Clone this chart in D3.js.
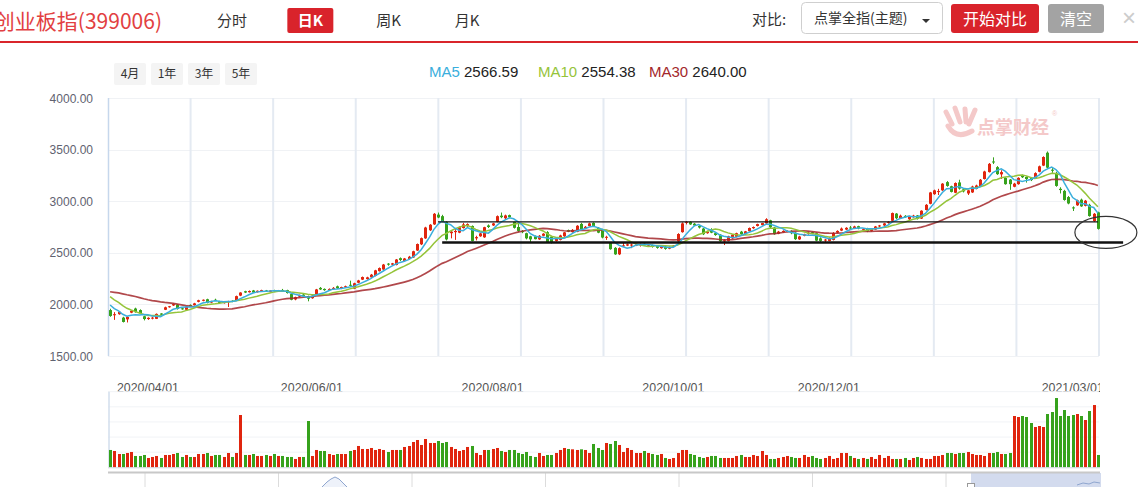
<!DOCTYPE html>
<html><head><meta charset="utf-8">
<script src="https://cdn.jsdelivr.net/npm/d3@7"></script>
<style>
body{margin:0;background:#fff;overflow:hidden}
svg{display:block;font-family:"Liberation Sans",Arial,"Noto Sans CJK SC",sans-serif}
.cjk{font-family:"Noto Sans CJK SC","Liberation Sans",sans-serif}
</style>
</head><body>
<svg id="c" width="1138" height="487"></svg>
<script>
// ---------------- data ----------------
const title = "创业板指(399006)";
const periodTabs = ["分时","日K","周K","月K"];
const rangeBtns = ["4月","1年","3年","5年"];
const maNames = ["MA5","MA10","MA30"];
const maLegendValues = ["2566.59","2554.38","2640.00"];
const yTicks = [1500,2000,2500,3000,3500,4000];
const dateTickIdx = [9,48,91,134,171,229];
const dateTickLabels = ["2020/04/01","2020/06/01","2020/08/01","2020/10/01","2020/12/01","2021/03/01"];

const prevClose = [2060,2090,2120,2150,2170,2200,2230,2190,2150,2120,2080,2100,2130,2110,2160,2180,2170,2190,2150,2180,
2200,2180,2150,2130,2110,2080,2040,1995,1970];

const open = [1945,1895,1905,1872,1855,1920,1960,1945,1885,1858,
1862,1860,1912,1948,1975,1990,1998,1962,1948,1995,
1992,2025,2035,2050,2018,2045,2030,2012,2022,2035,
2040,2085,2128,2118,2135,2118,2125,2135,2122,2138,
2125,2140,2138,2100,2048,2075,2095,2078,2060,2100,
2160,2150,2140,2150,2175,2152,2165,2190,2152,2210,
2240,2245,2262,2275,2322,2338,2395,2385,2382,2448,
2420,2440,2455,2522,2582,2640,2718,2775,2870,2855,
2800,2690,2700,2695,2740,2760,2760,2640,2660,2650,
2765,2765,2800,2860,2835,2865,2800,2750,2712,2690,
2660,2660,2630,2665,2700,2655,2615,2625,2660,2720,
2700,2705,2780,2735,2760,2790,2742,2725,2645,2598,
2548,2485,2565,2570,2575,2570,2572,2588,2575,2575,
2565,2545,2560,2540,2560,2610,2700,2790,2800,2782,
2760,2735,2690,2725,2690,2675,2610,2615,2640,2655,
2705,2680,2710,2738,2760,2768,2785,2815,2745,2685,
2700,2705,2712,2695,2630,2665,2690,2700,2690,2640,
2620,2615,2625,2695,2715,2725,2745,2740,2758,2725,
2738,2712,2725,2758,2765,2790,2810,2880,2835,2858,
2825,2845,2862,2832,2915,2975,3068,3090,3105,3185,
3145,3082,3182,3115,3075,3085,3120,3145,3215,3282,
3385,3330,3260,3225,3210,3140,3165,3250,3235,3225,
3225,3285,3345,3470,3305,3270,3120,3100,3040,2940,
2960,3015,2955,2965,2808,2892];

const high = [1958,1925,1935,1880,1885,1945,1968,1952,1890,1875,
1878,1912,1915,1978,1985,2008,2002,1968,1985,2000,
2015,2045,2048,2055,2035,2055,2035,2030,2035,2040,
2085,2118,2132,2135,2140,2135,2142,2140,2138,2142,
2140,2150,2142,2102,2075,2095,2100,2085,2090,2150,
2168,2155,2155,2168,2182,2172,2182,2230,2210,2238,
2270,2268,2295,2335,2358,2392,2400,2402,2440,2455,
2450,2470,2520,2590,2648,2752,2778,2885,2890,2868,
2805,2720,2740,2755,2790,2785,2765,2665,2695,2752,
2775,2790,2862,2890,2870,2870,2800,2780,2720,2695,
2665,2668,2672,2690,2710,2665,2650,2675,2702,2725,
2730,2768,2790,2760,2792,2795,2750,2732,2665,2605,
2555,2552,2598,2590,2590,2588,2590,2592,2585,2580,
2570,2565,2565,2562,2575,2690,2795,2808,2805,2788,
2770,2740,2715,2738,2698,2680,2632,2665,2680,2695,
2712,2712,2745,2755,2782,2790,2835,2820,2750,2712,
2718,2718,2718,2700,2665,2685,2705,2705,2695,2650,
2635,2650,2700,2718,2745,2748,2760,2762,2762,2740,
2742,2735,2760,2770,2790,2805,2890,2885,2870,2865,
2860,2868,2866,2912,2972,3090,3112,3120,3175,3195,
3150,3182,3208,3120,3110,3150,3160,3215,3295,3370,
3425,3340,3300,3232,3215,3178,3232,3258,3240,3235,
3280,3345,3435,3482,3320,3285,3135,3110,3050,2950,
3015,3025,3012,2975,2885,2898];

const low = [1880,1850,1900,1825,1825,1915,1920,1905,1845,1850,
1855,1858,1895,1945,1968,1985,1950,1948,1945,1985,
1988,2020,2030,2010,2012,2035,2010,2008,1975,2022,
2038,2080,2110,2115,2110,2115,2122,2120,2118,2122,
2120,2125,2105,2040,2040,2070,2078,2030,2055,2095,
2140,2132,2135,2145,2150,2148,2160,2175,2148,2205,
2236,2240,2258,2272,2318,2335,2375,2380,2378,2420,
2415,2435,2450,2518,2575,2635,2712,2770,2835,2795,
2620,2640,2625,2690,2735,2750,2610,2620,2655,2645,
2740,2760,2795,2835,2825,2835,2735,2700,2690,2630,
2595,2630,2625,2660,2595,2590,2608,2620,2655,2700,
2695,2700,2722,2730,2755,2755,2690,2640,2625,2530,
2480,2478,2558,2565,2545,2565,2560,2568,2560,2550,
2540,2540,2530,2535,2555,2605,2695,2775,2770,2758,
2735,2672,2685,2690,2665,2605,2575,2610,2635,2650,
2672,2675,2705,2732,2755,2765,2780,2740,2675,2680,
2695,2700,2680,2625,2625,2660,2675,2680,2612,2605,
2598,2610,2620,2690,2710,2720,2730,2736,2728,2715,
2700,2705,2720,2750,2760,2782,2805,2825,2830,2840,
2818,2840,2822,2828,2910,2970,3062,3060,3100,3140,
3085,3078,3112,3085,3060,3080,3115,3140,3210,3278,
3360,3255,3215,3160,3110,3135,3160,3225,3180,3195,
3220,3280,3340,3318,3275,3140,3075,3005,2970,2905,
2955,2945,2950,2850,2800,2725];

const close = [1888,1905,1928,1830,1878,1938,1925,1912,1858,1870,
1872,1908,1900,1972,1982,2003,1955,1952,1980,1990,
2010,2040,2045,2015,2032,2040,2015,2025,2030,2028,
2080,2115,2115,2130,2115,2132,2138,2125,2135,2128,
2135,2128,2110,2045,2070,2090,2082,2055,2085,2145,
2145,2138,2150,2160,2155,2168,2176,2180,2205,2232,
2265,2262,2288,2330,2352,2386,2385,2398,2435,2430,
2445,2462,2515,2585,2642,2745,2772,2878,2842,2802,
2630,2705,2712,2748,2775,2778,2615,2652,2688,2748,
2750,2785,2855,2845,2862,2845,2742,2712,2700,2640,
2630,2632,2665,2685,2600,2598,2645,2668,2698,2705,
2722,2762,2728,2752,2785,2760,2695,2648,2655,2535,
2485,2545,2572,2582,2580,2583,2585,2572,2578,2558,
2548,2560,2538,2556,2570,2682,2785,2800,2775,2765,
2745,2680,2705,2695,2672,2612,2622,2660,2675,2690,
2680,2708,2740,2750,2778,2788,2825,2748,2680,2705,
2712,2712,2690,2632,2658,2680,2695,2685,2618,2615,
2628,2638,2692,2712,2735,2742,2738,2755,2735,2732,
2708,2730,2755,2765,2785,2800,2885,2835,2860,2845,
2852,2860,2830,2908,2965,3085,3105,3098,3170,3148,
3090,3176,3122,3095,3105,3142,3152,3208,3288,3362,
3375,3262,3282,3165,3165,3170,3226,3232,3215,3205,
3272,3338,3428,3325,3295,3148,3108,3012,2978,2930,
3008,2950,3005,2856,2878,2732];

const volume = [52,49,40,40,43,46,34,34,37,28,
31,34,28,37,37,40,43,31,37,31,
31,40,40,43,34,37,37,31,43,31,
43,157,37,37,40,34,34,37,34,40,
34,34,31,31,25,31,31,139,34,52,
49,49,40,37,40,40,40,49,52,64,
55,55,58,52,55,52,46,52,52,52,
61,64,76,82,67,85,73,73,79,73,
76,61,55,49,52,61,64,43,37,52,
52,55,58,49,46,52,52,43,40,46,
34,31,43,34,37,37,43,52,58,55,
54,52,54,52,43,70,58,52,73,70,
79,67,46,58,52,43,43,49,43,40,
37,40,28,25,28,43,52,52,40,37,
31,28,31,34,34,28,28,28,28,34,
37,31,31,37,34,49,37,25,25,28,
31,34,31,28,28,37,31,34,28,25,
28,34,25,28,43,43,34,28,25,28,
25,31,25,37,28,34,25,25,25,28,
22,28,31,28,25,25,34,34,37,43,
43,40,43,43,46,40,37,37,34,43,
43,46,40,40,43,154,151,154,151,133,
121,124,121,160,166,208,154,172,154,157,
160,154,142,169,187,37];

const resistanceLevel = 2800, supportLevel = 2600;
const resistanceSpan = [78, 235], supportSpan = [79, 241];
const circleCenter = {i: 236.9, v: 2697};

// ---------------- drawing ----------------
const RED = "#e0250e", GREEN = "#36a21c";
const svg = d3.select("#c");
const N = close.length;

// header
svg.append("text").attr("class","cjk").attr("x",162).attr("y",29).attr("text-anchor","end")
  .attr("font-size",21).attr("fill","#e23f42").text(title);
const tabX = d3.scalePoint().domain(periodTabs).range([232,467]);
periodTabs.forEach(t=>{
  if(t==="日K"){
    svg.append("rect").attr("x",tabX(t)-23).attr("y",8).attr("width",46).attr("height",25).attr("rx",2).attr("fill","#d9232b");
    svg.append("text").attr("class","cjk").attr("x",tabX(t)).attr("y",26).attr("text-anchor","middle")
      .attr("font-size",15).attr("font-weight","bold").attr("fill","#fff").text(t);
  } else {
    svg.append("text").attr("class","cjk").attr("x",tabX(t)).attr("y",26).attr("text-anchor","middle")
      .attr("font-size",15).attr("fill","#333").text(t);
  }
});
svg.append("text").attr("class","cjk").attr("x",752).attr("y",25).attr("font-size",15).attr("fill","#333").text("对比:");
svg.append("rect").attr("x",801.5).attr("y",2.5).attr("width",141).attr("height",31).attr("rx",4)
  .attr("fill","#fff").attr("stroke","#cfcfcf");
svg.append("text").attr("class","cjk").attr("x",814).attr("y",23).attr("font-size",14).attr("fill","#333").text("点掌全指(主题)");
svg.append("path").attr("d","M922,19L930,19L926,23Z").attr("fill","#333");
svg.append("rect").attr("x",951).attr("y",4).attr("width",88).attr("height",29).attr("rx",3).attr("fill","#d9232b");
svg.append("text").attr("class","cjk").attr("x",995).attr("y",24.5).attr("text-anchor","middle").attr("font-size",16).attr("fill","#fff").text("开始对比");
svg.append("rect").attr("x",1048).attr("y",4).attr("width",56).attr("height",29).attr("rx",3).attr("fill","#a3a3a3");
svg.append("text").attr("class","cjk").attr("x",1076).attr("y",24.5).attr("text-anchor","middle").attr("font-size",16).attr("fill","#fff").text("清空");
svg.append("text").attr("x",1129).attr("y",26).attr("text-anchor","middle").attr("font-size",24).attr("fill","#cccccc").text("×");
svg.append("rect").attr("x",0).attr("y",41).attr("width",1138).attr("height",2).attr("fill","#d9252b");

// range buttons
const btnX = d3.scalePoint().domain(rangeBtns).range([130,241]);
rangeBtns.forEach(b=>{
  svg.append("rect").attr("x",btnX(b)-16).attr("y",63).attr("width",32).attr("height",22).attr("rx",2).attr("fill","#f4f4f4");
  svg.append("text").attr("class","cjk").attr("x",btnX(b)).attr("y",78).attr("text-anchor","middle").attr("font-size",12).attr("fill","#333").text(b);
});

// MA legend
const maColors = ["#3aaedc","#95c43a","#a3282b"];
const legX = [429,538,649];
maNames.forEach((m,k)=>{
  const t = svg.append("text").attr("x",legX[k]).attr("y",77).attr("font-size",15);
  t.append("tspan").attr("fill",maColors[k]).text(m+" ");
  t.append("tspan").attr("fill","#222").text(maLegendValues[k]);
});

// scales
const x = d3.scaleBand().domain(d3.range(N)).range([108,1100]).paddingInner(0.3).paddingOuter(0.15);
const cx = i => x(i) + x.bandwidth()/2;
const xi = d3.scaleLinear().domain([0,N-1]).range([cx(0),cx(N-1)]);
const y = d3.scaleLinear().domain([1500,4000]).range([356,98]);
const yv = d3.scaleLinear().domain([0,227]).range([467.3,391.7]);

// grid main
const g = svg.append("g");
g.selectAll(".hg").data(yTicks).join("line").attr("x1",108).attr("x2",1099)
  .attr("y1",d=>Math.round(y(d))+0.5).attr("y2",d=>Math.round(y(d))+0.5).attr("stroke","#f0f2f5");
const vgs = d3.scaleLinear().domain([0,12]).range([108,1099]);
g.selectAll(".vg").data(d3.range(1,13)).join("line").attr("x1",d=>vgs(d)).attr("x2",d=>vgs(d))
  .attr("y1",98).attr("y2",356).attr("stroke","#e4eaf2").attr("stroke-width",2);
g.append("line").attr("x1",108.5).attr("x2",108.5).attr("y1",98).attr("y2",356).attr("stroke","#c6d7ec").attr("stroke-width",1.5);
g.selectAll(".yl").data(yTicks).join("text").attr("x",93).attr("y",d=>y(d)+4.5).attr("text-anchor","end")
  .attr("font-size",12).attr("fill","#5f6270").text(d=>d3.format(".2f")(d));

// watermark
const wm = svg.append("g").attr("fill","#f4c9c9").attr("stroke","#f4c9c9");
wm.append("path").attr("d","M946,112 L952,124 M955,108 L960,122 M965,109 L966,122 M975,110 L969,124")
  .attr("stroke-width",5).attr("stroke-linecap","round").attr("fill","none");
wm.append("path").attr("d","M948,126 Q956,140 972,131").attr("stroke-width",5).attr("stroke-linecap","round").attr("fill","none");
wm.append("text").attr("class","cjk").attr("x",977).attr("y",134).attr("font-size",18).attr("font-weight","bold").attr("stroke","none").text("点掌财经");
wm.append("text").attr("x",1052).attr("y",116).attr("font-size",7).attr("stroke","none").text("®");

// candles
const cg = svg.append("g");
d3.range(N).forEach(i=>{
  const up = close[i] >= open[i];
  const col = up ? RED : GREEN;
  const xc = Math.round(cx(i));
  cg.append("line").attr("x1",xc+0.5).attr("x2",xc+0.5).attr("y1",y(high[i])).attr("y2",y(low[i])).attr("stroke",col).attr("stroke-width",1);
  const top = y(Math.max(open[i],close[i])), bot = y(Math.min(open[i],close[i]));
  cg.append("rect").attr("x",xc-1).attr("y",top).attr("width",3).attr("height",Math.max(1,bot-top)).attr("fill",col);
});

// moving averages
const allC = prevClose.concat(close);
function ma(n){ return close.map((_,i)=>{ const j=i+prevClose.length; return d3.mean(allC.slice(j-n+1,j+1)); }); }
const maSeries = [ma(5), ma(10), ma(30)];
const line = d3.line().x((d,i)=>cx(i)).y(d=>y(d));
[2,1,0].forEach(k=>{
  svg.append("path").attr("d",line(maSeries[k])).attr("fill","none").attr("stroke",maColors[k])
    .attr("stroke-width",k===2?1.7:1.5).attr("opacity",k===2?0.85:1);
});

// annotations
svg.append("line").attr("x1",xi(resistanceSpan[0])).attr("x2",xi(resistanceSpan[1]))
  .attr("y1",y(resistanceLevel)).attr("y2",y(resistanceLevel)).attr("stroke","#111").attr("stroke-width",1.4);
svg.append("line").attr("x1",xi(supportSpan[0])).attr("x2",xi(supportSpan[1]))
  .attr("y1",y(supportLevel)).attr("y2",y(supportLevel)).attr("stroke","#111").attr("stroke-width",2.4);
svg.append("ellipse").attr("cx",xi(circleCenter.i)).attr("cy",y(circleCenter.v)).attr("rx",31).attr("ry",16)
  .attr("fill","none").attr("stroke","#333").attr("stroke-width",1.2);

// volume panel
const defs = svg.append("defs");
defs.append("clipPath").attr("id","dclip").append("rect").attr("x",100).attr("y",370).attr("width",1000).attr("height",30);
svg.append("g").attr("clip-path","url(#dclip)").selectAll("text").data(dateTickIdx).join("text")
  .attr("x",d=>cx(d)).attr("y",392).attr("text-anchor","middle").attr("font-size",12.4).attr("fill","#555")
  .text((d,k)=>dateTickLabels[k]);
const vgl = d3.range(0,6).map(k=>yv.invert(467.3) + k*227/5);
svg.selectAll(".vhg").data(vgl.slice(1)).join("line").attr("x1",108).attr("x2",1099)
  .attr("y1",d=>yv(d)).attr("y2",d=>yv(d)).attr("stroke","#f1f3f6");
svg.append("line").attr("x1",109).attr("x2",109).attr("y1",391.7).attr("y2",467.3).attr("stroke","#d2deed").attr("stroke-width",1.5);
d3.range(N).forEach(i=>{
  const col = close[i] >= open[i] ? RED : GREEN;
  svg.append("rect").attr("x",Math.round(cx(i))-1).attr("y",yv(volume[i])).attr("width",3)
    .attr("height",yv(0)-yv(volume[i])).attr("fill",col);
});
svg.append("line").attr("x1",108).attr("x2",1100).attr("y1",467.8).attr("y2",467.8).attr("stroke","#cfd6df").attr("stroke-width",1);

// navigator
svg.append("rect").attr("x",971).attr("y",473).attr("width",130).attr("height",14).attr("fill","#d3dbee");
const nv = d3.scaleLinear().domain([0,6]).range([145,946]);
svg.selectAll(".nvl").data(d3.range(7)).join("line").attr("x1",d=>nv(d)).attr("x2",d=>nv(d))
  .attr("y1",473).attr("y2",487).attr("stroke","#dcdcdc");
svg.append("line").attr("x1",108).attr("x2",1100).attr("y1",472.5).attr("y2",472.5).attr("stroke","#c8c8c8").attr("stroke-width",1.8);
svg.append("path").attr("d","M322,487 L327,482 L331,479 L335,477 L339,479 L343,483 L347,487")
  .attr("fill","#eef2fa").attr("stroke","#8fa6cf").attr("stroke-width",1);
svg.append("path").attr("d","M1077,485 L1083,483 L1089,484 L1094,482 L1100,483")
  .attr("fill","none").attr("stroke","#8fa6cf").attr("stroke-width",1);
svg.append("rect").attr("x",967.5).attr("y",483.5).attr("width",7).attr("height",6).attr("fill","#fff").attr("stroke","#999");
</script>
</body></html>
